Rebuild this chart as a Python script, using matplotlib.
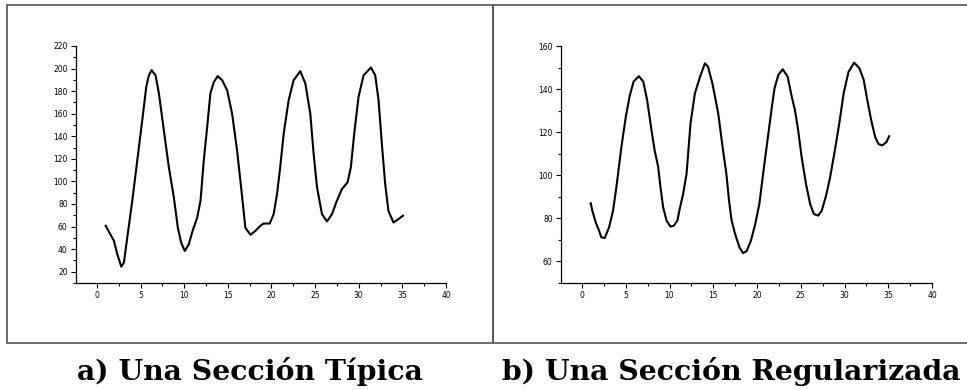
import matplotlib.pyplot as plt
from matplotlib.patches import Rectangle
from matplotlib.ticker import MultipleLocator

# a) typical section
x_a = [1.0, 1.95, 2.33, 2.79, 3.09, 3.47, 4.05, 4.62, 5.19, 5.65, 5.95, 6.26,
       6.72, 7.1, 7.67, 8.24, 8.81, 9.27, 9.65, 10.07, 10.53, 10.9, 11.49, 11.87,
       12.24, 12.63, 13.0, 13.39, 13.84, 14.35, 14.92, 15.49, 16.06, 16.52, 17.01,
       17.59, 18.16, 18.73, 19.1, 19.8, 20.25, 20.64, 21.0, 21.4, 21.97, 22.54,
       23.3, 23.88, 24.45, 24.83, 25.22, 25.79, 26.36, 26.93, 27.5, 28.08, 28.72,
       29.1, 29.48, 29.98, 30.55, 31.4, 31.89, 32.27, 32.65, 33.03, 33.4, 33.98,
       34.55, 35.06]
y_a = [60.7, 47.3, 35.5, 24.5, 28, 50, 83, 118.5, 154, 183.8, 194, 198.6,
       194, 178, 145, 112.6, 86, 59, 45.8, 38.4, 44.4, 54.7, 68, 83,
       118.5, 148, 178, 188, 193.3, 189.7, 180.8, 160, 127.4, 94.8, 59,
       52.7, 56.2, 60.7, 62.7, 62.7, 71, 88.9, 112.6, 142.3, 172, 189.7,
       197.7, 186.8, 160, 124.5, 94.8, 71, 64.5, 71, 83, 93.3, 99.2,
       112.6, 142.3, 175, 194, 201, 194, 172, 133.4, 97.8, 74, 63.6,
       66.6, 69.6]

# b) regularized section
x_b = [1.0, 1.18, 1.56, 1.95, 2.2, 2.6, 3.1, 3.55, 3.93, 4.5, 5.0, 5.46, 5.9, 6.5,
       7.0, 7.44, 7.94, 8.3, 8.7, 8.97, 9.27, 9.66, 10.1, 10.5, 10.9, 11.2, 11.56,
       11.95, 12.4, 12.9, 13.5, 14.05, 14.4, 14.9, 15.57, 16.07, 16.5, 16.8, 17.1,
       17.5, 18.0, 18.4, 18.8, 19.3, 19.8, 20.27, 20.7, 21.2, 21.7, 22.0, 22.44,
       22.94, 23.5, 23.97, 24.35, 24.7, 25.1, 25.6, 26.07, 26.5, 27.0, 27.4, 27.9,
       28.36, 28.9, 29.4, 29.9, 30.46, 31.1, 31.7, 32.2, 32.6, 33.05, 33.5, 33.9,
       34.35, 34.8, 35.1]
y_b = [87, 83.6, 78.2, 74.3, 71.2, 70.9, 75.9, 83.6, 94.5, 113, 127, 137, 143.5, 146,
       143.5, 135, 121, 111.6, 104, 94.5, 85.2, 79, 76.2, 76.6, 79, 85, 91.4,
       100.7, 124, 138, 145.8, 152, 150.4, 142.7, 128.7, 113, 100.7, 88.3, 79,
       72.7, 66.5, 63.9, 64.7, 69.6, 77.4, 86.7, 100.7, 116.3, 131.8, 140.3, 146.6,
       149.2, 145.8, 136.5, 130, 121, 108.5, 96, 86.7, 82, 81.3, 83.6, 90.6,
       99.2, 111.6, 124, 138, 148, 152.3, 149.7, 144.2, 135, 125.6, 117.8, 114.4,
       113.9, 115.5, 118.1]

captions = ["a) Una Sección Típica", "b) Una Sección Regularizada"]

fig = plt.figure(figsize=(9.67, 3.9), dpi=100)

# panel frames
fig.patches.append(Rectangle((7 / 967, 47 / 390), 486 / 967, 338 / 390,
                             transform=fig.transFigure, fill=False,
                             edgecolor="#555555", linewidth=1.2))
fig.patches.append(Rectangle((493 / 967, 47 / 390), 480 / 967, 338 / 390,
                             transform=fig.transFigure, fill=False,
                             edgecolor="#555555", linewidth=1.2))


def setup(ax, ylim, yticks):
    for side in ["top", "right"]:
        ax.spines[side].set_visible(False)
    for side in ["left", "bottom"]:
        ax.spines[side].set_linewidth(0.9)
    ax.set_xlim(-2.4, 40)
    ax.set_ylim(*ylim)
    ax.set_xticks(range(0, 41, 5))
    ax.set_yticks(yticks)
    ax.xaxis.set_minor_locator(MultipleLocator(2.5))
    ax.yaxis.set_minor_locator(MultipleLocator(10))
    ax.tick_params(which="major", length=3.5, width=0.8, labelsize=5.5, pad=2.5)
    ax.tick_params(which="minor", length=2, width=0.8)
    ax.patch.set_alpha(0)


ax1 = fig.add_axes([76 / 967, 107 / 390, 370 / 967, 237 / 390])
ax1.plot(x_a, y_a, color="black", linewidth=1.5)
setup(ax1, (10, 220), range(20, 221, 20))

ax2 = fig.add_axes([561 / 967, 107 / 390, 371 / 967, 237 / 390])
ax2.plot(x_b, y_b, color="black", linewidth=1.5)
setup(ax2, (50, 160), range(60, 161, 20))

fig.text(249.5 / 967, 10 / 390, captions[0], ha="center", va="baseline",
         fontsize=20.3, fontweight="bold", family="DejaVu Serif")
fig.text(731.5 / 967, 10 / 390, captions[1], ha="center", va="baseline",
         fontsize=20.3, fontweight="bold", family="DejaVu Serif")

fig.savefig("out.png", dpi=100)
